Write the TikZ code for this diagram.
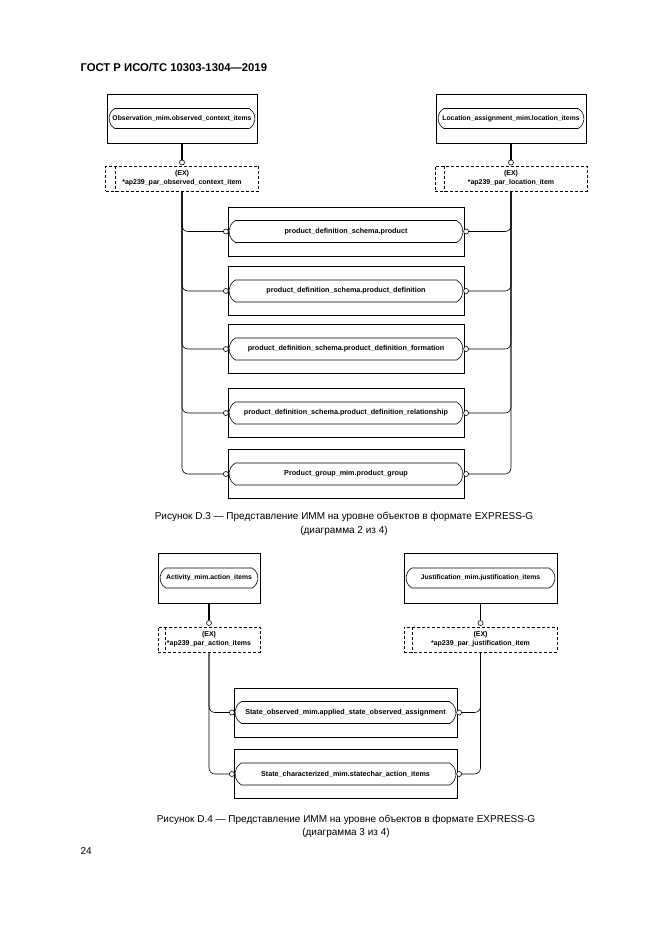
\documentclass[tikz,border=0pt]{standalone}
\usepackage{fontspec}
\setmainfont{Liberation Sans}
\usetikzlibrary{shapes.misc}
\begin{document}
\begin{tikzpicture}[x=1pt,y=-1pt,
  ebox/.style={draw, line width=0.7pt, minimum width=#1, minimum height=49pt, inner sep=0pt},
  pill/.style={draw, rounded rectangle, rounded rectangle arc length=120, line width=0.6pt, minimum width=#1, minimum height=20pt, inner sep=1pt, font=\bfseries\fontsize{7.2}{8}\selectfont},
  tpill/.style={pill=#1, font=\bfseries\fontsize{6.8}{8}\selectfont},
  mpill/.style={pill=#1, minimum height=22pt},
  selbox/.style={draw, dash pattern=on 3pt off 2pt, line width=0.6pt, minimum width=#1, minimum height=25pt, inner sep=0pt, align=center, font=\bfseries\fontsize{7}{9}\selectfont},
  oc/.style={draw, circle, line width=0.6pt, minimum size=5pt, inner sep=0pt, fill=white},
  linkline/.style={line width=1.6pt},
  spine/.style={line width=0.6pt, rounded corners=6pt},
  innerline/.style={line width=0.6pt, dash pattern=on 3pt off 2pt},
  captext/.style={align=center, font=\fontsize{10}{13.5}\selectfont},
]
\fill[white] (0,0) rectangle (661,935);
\useasboundingbox (0,0) rectangle (661,935);

\node[anchor=west, font=\bfseries\fontsize{11.3}{13}\selectfont] (hdr) at (77,68) {ГОСТ Р ИСО/ТС 10303-1304—2019};

% ---------- Figure D.3 ----------
\node[ebox=150] (ob) at (182,118.5) {};
\node[tpill=148] (obp) at (ob.center) {Observation\_mim.observed\_context\_items};
\node[ebox=150] (lo) at (511,118.5) {};
\node[tpill=148] (lop) at (lo.center) {Location\_assignment\_mim.location\_items};

\node[oc] (obc) at (182,162.5) {};
\node[selbox=153] (obx) at (182,178.5) {(EX)\\{*}ap239\_par\_observed\_context\_item};
\draw[innerline] ([xshift=10pt]obx.north west) -- ([xshift=10pt]obx.south west);
\node[oc] (loc) at (511,162.5) {};
\node[selbox=152] (lox) at (511,178.5) {(EX)\\{*}ap239\_par\_location\_item};
\draw[innerline] ([xshift=10pt]lox.north west) -- ([xshift=10pt]lox.south west);

\draw[linkline] (ob.south) -- (obc.north);
\draw[linkline] (lo.south) -- (loc.north);

\foreach \n/\yy/\txt in {
  a/231.5/product\_definition\_schema.product,
  b/291/product\_definition\_schema.product\_definition,
  c/349/product\_definition\_schema.product\_definition\_formation,
  d/413/product\_definition\_schema.product\_definition\_relationship,
  e/474/Product\_group\_mim.product\_group}{
  \node[ebox=236] (m\n) at (346,\yy) {};
  \node[mpill=236] (p\n) at (m\n.center) {\txt};
  \node[oc, anchor=east] (l\n) at (p\n.west) {};
  \node[oc, anchor=west] (r\n) at (p\n.east) {};
  \draw[spine] (obx.south) |- (l\n.west);
  \draw[spine] (lox.south) |- (r\n.east);
}

\node[captext] (cap3) at (344,524) {Рисунок D.3 — Представление ИММ на уровне объектов в формате EXPRESS-G\\(диаграмма 2 из 4)};

% ---------- Figure D.4 ----------
\node[ebox=102, minimum height=50pt] (ac) at (209,578) {};
\node[tpill=100] (acp) at (ac.center) {Activity\_mim.action\_items};
\node[ebox=153, minimum height=50pt] (ju) at (480.5,578) {};
\node[tpill=151] (jup) at (ju.center) {Justification\_mim.justification\_items};

\node[oc] (acc) at (209,623) {};
\node[selbox=102] (acx) at (209,639.5) {(EX)\\{*}ap239\_par\_action\_items};
\draw[innerline] ([xshift=8pt]acx.north west) -- ([xshift=8pt]acx.south west);
\node[oc] (juc) at (480.5,623) {};
\node[selbox=153] (jux) at (480.5,639.5) {(EX)\\{*}ap239\_par\_justification\_item};
\draw[innerline] ([xshift=9pt]jux.north west) -- ([xshift=9pt]jux.south west);

\draw[linkline] (ac.south) -- (acc.north);
\draw[linkline] (ju.south) -- (juc.north);

\foreach \n/\yy/\txt in {
  f/712.5/State\_observed\_mim.applied\_state\_observed\_assignment,
  g/774/State\_characterized\_mim.statechar\_action\_items}{
  \node[ebox=223] (m\n) at (345.5,\yy) {};
  \node[mpill=223] (p\n) at (m\n.center) {\txt};
  \node[oc, anchor=east] (l\n) at (p\n.west) {};
  \node[oc, anchor=west] (r\n) at (p\n.east) {};
  \draw[spine] (acx.south) |- (l\n.west);
  \draw[spine] (jux.south) |- (r\n.east);
}

\node[captext] (cap4) at (346,826.5) {Рисунок D.4 — Представление ИММ на уровне объектов в формате EXPRESS-G\\(диаграмма 3 из 4)};

\node[anchor=west, font=\fontsize{10}{12}\selectfont] (pg) at (77,851) {24};
\end{tikzpicture}
\end{document}
